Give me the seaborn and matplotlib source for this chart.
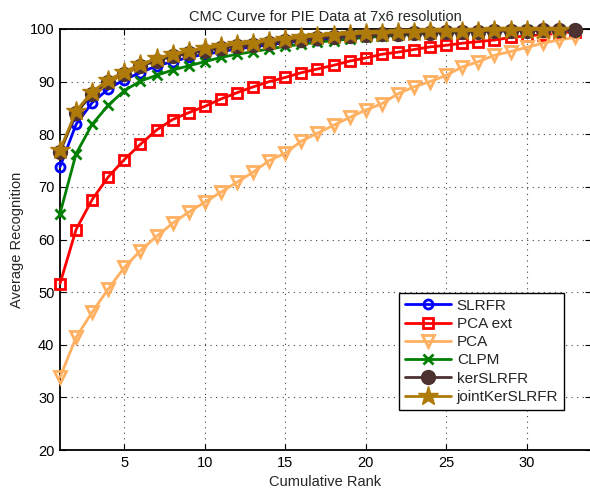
import matplotlib
matplotlib.use("Agg")
import matplotlib.pyplot as plt
import seaborn as sns
import pandas as pd

# ---- data ----
rank = list(range(1, 34))

slrfr = [73.8, 81.9, 86.0, 88.6, 90.4, 91.7, 93.0, 93.8, 94.6, 95.2, 95.7, 96.2,
         96.6, 97.0, 97.4, 97.7, 98.0, 98.3, 98.5, 98.7, 98.9, 99.0, 99.2, 99.3,
         99.4, 99.5, 99.6, 99.6, 99.7, 99.8, 99.8, 99.9, 99.9]
pca_ext = [51.6, 61.9, 67.6, 71.9, 75.2, 78.1, 80.8, 82.8, 84.1, 85.3, 86.7, 87.9,
           89.0, 90.0, 90.8, 91.7, 92.4, 93.1, 93.9, 94.5, 95.2, 95.6, 96.1, 96.6,
           96.9, 97.3, 97.6, 97.9, 98.4, 98.7, 98.9, 99.2, 99.5]
pca = [33.8, 41.4, 46.2, 50.6, 54.7, 57.9, 60.6, 63.1, 65.2, 67.1, 69.0, 70.9,
       72.8, 75.0, 76.4, 78.7, 80.2, 81.7, 83.2, 84.6, 85.8, 87.7, 89.0, 90.0,
       91.2, 92.8, 93.8, 95.0, 95.7, 96.5, 97.3, 97.9, 98.4]
clpm = [64.9, 76.3, 81.9, 85.5, 88.3, 90.1, 91.2, 92.2, 93.0, 93.8, 94.6, 95.2,
        95.7, 96.2, 96.7, 97.1, 97.5, 97.8, 98.1, 98.4, 98.6, 98.8, 99.0, 99.2,
        99.3, 99.4, 99.5, 99.6, 99.7, 99.8, 99.8, 99.9, 99.9]
ker_slrfr = [76.6, 84.0, 87.7, 89.9, 91.5, 92.9, 94.0, 94.8, 95.4, 95.9, 96.4, 96.7,
             97.0, 97.4, 97.7, 98.0, 98.3, 98.5, 98.7, 98.9, 99.0, 99.1, 99.2, 99.3,
             99.4, 99.5, 99.5, 99.6, 99.7, 99.7, 99.8, 99.8, 99.9]
joint_ker = [77.0, 84.4, 88.1, 90.3, 91.9, 93.3, 94.4, 95.2, 95.8, 96.3, 96.8, 97.1,
             97.4, 97.8, 98.1, 98.4, 98.7, 98.9, 99.1, 99.2, 99.3, 99.4, 99.5, 99.6,
             99.6, 99.7, 99.7, 99.8, 99.8, 99.9, 99.9, 99.9]

# label, values, color, marker, marker size, filled
series = [
    ("SLRFR", slrfr, "#0000ff", "o", 6.5, False),
    ("PCA ext", pca_ext, "#ff0000", "s", 6.5, False),
    ("PCA", pca, "#ffb061", "v", 9, False),
    ("CLPM", clpm, "#007f00", "x", 6.5, False),
    ("kerSLRFR", ker_slrfr, "#4d3131", "o", 10, True),
    ("jointKerSLRFR", joint_ker, "#ae7a0a", "*", 15, True),
]

sns.set_theme(style="ticks")
plt.rcParams["font.family"] = ["Liberation Sans", "DejaVu Sans"]
plt.rcParams["font.size"] = 10.5

fig = plt.figure(figsize=(5.9, 4.91), dpi=100)
ax = fig.add_axes([60 / 590, 1 - 450 / 491, 531 / 590, 421 / 491])

for label, vals, color, marker, ms, filled in series:
    df = pd.DataFrame({"rank": rank[:len(vals)], "acc": vals})
    sns.lineplot(data=df, x="rank", y="acc", ax=ax, label=label, color=color,
                 marker=marker, markersize=ms, linewidth=2,
                 markerfacecolor=color if filled else "none",
                 markeredgecolor=color, markeredgewidth=2 if not filled else 1,
                 clip_on=False, zorder=3)

ax.set_xlim(1, 34)
ax.set_ylim(20, 100)
ax.set_xticks([5, 10, 15, 20, 25, 30])
ax.set_yticks(range(20, 101, 10))
ax.grid(True, linestyle=(0, (1, 4)), color="0.25", linewidth=0.8)
ax.tick_params(direction="in", top=True, right=True, length=4, width=0.8,
               labelsize=10.5, colors="black", pad=4)
for sp in ax.spines.values():
    sp.set_color("black")
    sp.set_linewidth(1.3)

ax.set_title("CMC Curve for PIE Data at 7x6 resolution", fontsize=10.5, pad=6)
ax.set_xlabel("Cumulative Rank", fontsize=10.5, labelpad=4)
ax.set_ylabel("Average Recognition", fontsize=10.5, labelpad=4)

leg = ax.legend(loc="upper left", bbox_to_anchor=(0.638, 0.374), borderaxespad=0,
                fontsize=11, handlelength=3.0, handletextpad=0.4,
                labelspacing=0.28, fancybox=False, framealpha=1,
                edgecolor="black", borderpad=0.4)
leg.get_frame().set_linewidth(1.0)

fig.savefig("out.png", dpi=100)
